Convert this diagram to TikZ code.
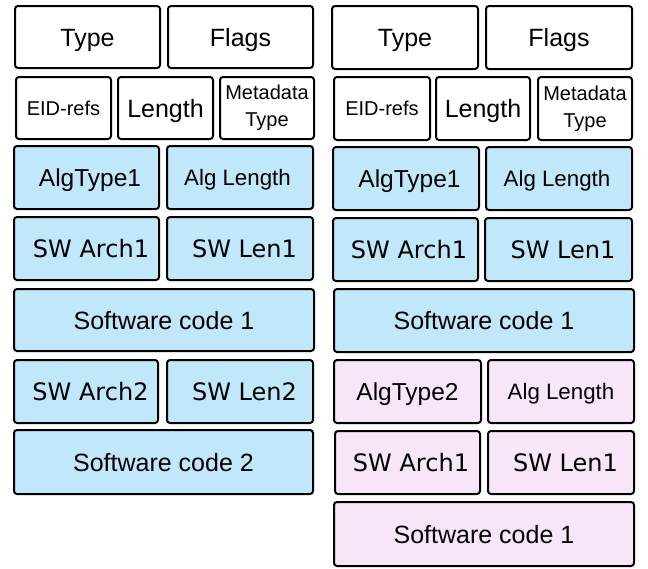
\documentclass[tikz,border=0pt]{standalone}
\usepackage{fontspec}
\setmainfont{Liberation Sans}
\newfontfamily\dvfont{DejaVu Sans}
\definecolor{algblue}{RGB}{192,232,250}
\definecolor{algpink}{RGB}{248,230,248}

% \fld{name}{x1}{y1}{x2}{y2}{options}{text}: a field box between two outer corners
\newcommand\fld[7]{%
  \node[cell,#6,minimum width={#4-#2-2},minimum height={#5-#3-2}]
    (#1) at ({(#2+#4)/2},{(#3+#5)/2}) {#7};}

\tikzset{
  cell/.style={draw=black, line width=2pt, rounded corners=3pt, inner sep=0pt,
               fill=white, align=center},
  big/.style={font=\fontsize{25}{28}\selectfont, text height=18pt, text depth=0pt},
  alg/.style={font=\fontsize{24.5}{28}\selectfont, text height=17.5pt, text depth=0pt},
  alglen/.style={font=\fontsize{22.3}{26}\selectfont, text height=16pt, text depth=0pt},
  small/.style={font=\fontsize{20}{26.7}\selectfont},
  smallone/.style={small, text height=14.4pt, text depth=0pt},
  sw/.style={font=\dvfont\fontsize{24}{28}\selectfont, text height=17.5pt, text depth=0pt},
  blu/.style={fill=algblue},
  pnk/.style={fill=algpink},
}

\begin{document}
\begin{tikzpicture}[x=1pt,y=-1pt]
\useasboundingbox (0,0) rectangle (648,568);

% ---- left column: two algorithm entries ----
\fld{lType}{14}{5}{161}{69}{big}{Type}
\fld{lFlags}{167}{5}{314}{69}{big}{Flags}
\fld{lEid}{15}{76}{112}{140}{smallone}{EID-refs}
\fld{lLen}{117}{76}{214}{140}{big}{Length}
\fld{lMeta}{219}{76}{315}{140}{small}{Metadata\\Type}
\fld{lAlgT}{13}{145}{160}{210}{alg,blu}{\hspace*{7pt}AlgType1}
\fld{lAlgL}{166}{145}{314}{210}{alglen,blu}{Alg Length\hspace*{5pt}}
\fld{lArchA}{13}{216}{160}{281}{sw,blu}{\hspace*{9pt}SW Arch1}
\fld{lLenA}{166}{216}{314}{281}{sw,blu}{\hspace*{9pt}SW Len1}
\fld{lCodeA}{13}{288}{315}{352}{big,blu}{Software code 1}
\fld{lArchB}{13}{359}{159}{424}{sw,blu}{\hspace*{9pt}SW Arch2}
\fld{lLenB}{166}{359}{314}{424}{sw,blu}{\hspace*{9pt}SW Len2}
\fld{lCodeB}{13}{429}{314}{495}{big,blu}{Software code 2}

% ---- right column: two algorithm entries, second one in pink ----
\fld{rType}{331}{5}{479}{70}{big}{Type}
\fld{rFlags}{485}{5}{633}{70}{big}{Flags}
\fld{rEid}{333}{76}{431}{141}{smallone}{EID-refs}
\fld{rLen}{435}{76}{531}{141}{big}{Length}
\fld{rMeta}{537}{76}{633}{141}{small}{Metadata\\Type}
\fld{rAlgT}{332}{146}{480}{211}{alg,blu}{\hspace*{7pt}AlgType1}
\fld{rAlgL}{485}{146}{633}{211}{alglen,blu}{Alg Length\hspace*{4pt}}
\fld{rArchA}{332}{217}{479}{282}{sw,blu}{\hspace*{7pt}SW Arch1}
\fld{rLenA}{484}{217}{633}{282}{sw,blu}{\hspace*{9pt}SW Len1}
\fld{rCodeA}{333}{288}{635}{353}{big,blu}{Software code 1}
\fld{rAlgT2}{333}{359}{482}{424}{alg,pnk}{AlgType2}
\fld{rAlgL2}{487}{359}{635}{424}{alglen,pnk}{Alg Length}
\fld{rArchB}{334}{430}{481}{495}{sw,pnk}{\hspace*{7pt}SW Arch1}
\fld{rLenB}{487}{430}{635}{495}{sw,pnk}{\hspace*{9pt}SW Len1}
\fld{rCodeB}{333}{501}{635}{567}{big,pnk}{Software code 1}
\end{tikzpicture}
\end{document}
